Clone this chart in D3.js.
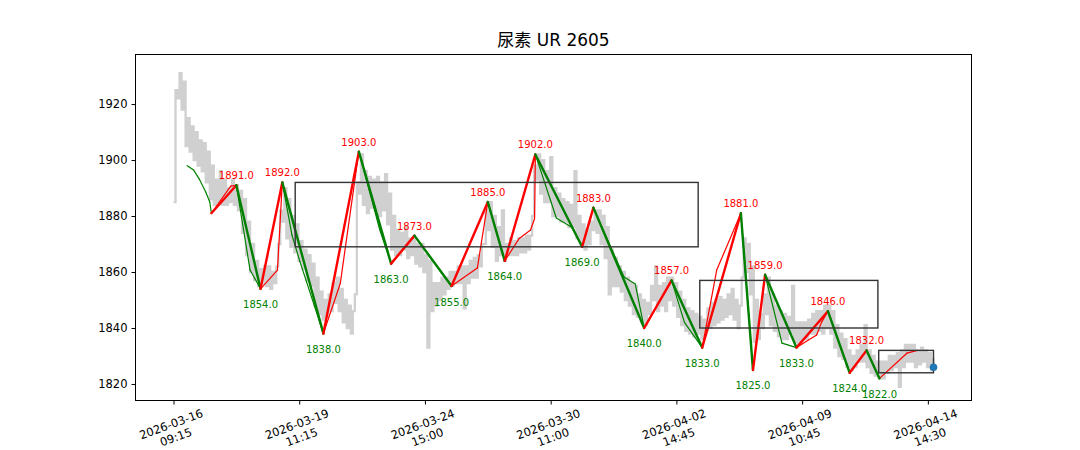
<!DOCTYPE html>
<html>
<head>
<meta charset="utf-8">
<script src="https://cdn.jsdelivr.net/npm/d3@7"></script>
<style>
  html, body { margin: 0; padding: 0; background: #fff; }
  svg { display: block; }
</style>
</head>
<body>
<div id="chart"></div>
<script>
// ---------------- data ----------------
const chartTitle = "尿素 UR 2605";

// x axis: bar index (5-minute bars); ticks every 156 bars
const tickIdx   = [0, 156, 312, 468, 624, 780, 936];
const tickDates = ["2026-03-16", "2026-03-19", "2026-03-24", "2026-03-30", "2026-04-02", "2026-04-09", "2026-04-14"];
const tickTimes = ["09:15", "11:15", "15:00", "11:00", "14:45", "10:45", "14:30"];
const yTicks    = [1820, 1840, 1860, 1880, 1900, 1920];

// close price band, sampled every 5 bars (low / high of each sample window)
const graySampleStep = 5;
const grayLow = [
  1885,1922,1918,1905,1903,1900,1898,1896,1892,1886,1884,1885,1884,1884,1885,1884,1882,1874,1866,1860,
  1857,1855,1856,1855,1854,1856,1870,1878,1872,1869,1867,1864,1861,1857,1855,1848,1845,1843,1844,1846,
  1849,1846,1842,1840,1838,1852,1888,1884,1881,1883,1882,1880,1882,1877,1868,1866,1866,1868,1865,1866,
  1863,1862,1860,1833,1846,1848,1850,1852,1854,1855,1856,1856,1847,1856,1858,1858,1862,1870,1875,1869,
  1864,1866,1864,1866,1866,1866,1867,1867,1868,1880,1893,1888,1885,1885,1880,1880,1878,1878,1876,1876,
  1872,1870,1868,1870,1875,1874,1870,1865,1852,1855,1855,1853,1850,1848,1845,1844,1842,1841,1845,1850,
  1846,1848,1846,1850,1848,1844,1841,1839,1838,1837,1838,1836,1839,1840,1841,1842,1843,1844,1845,1843,
  1840,1858,1860,1852,1835,1836,1840,1845,1841,1839,1837,1836,1836,1838,1835,1834,1836,1836,1838,1838,
  1839,1838,1840,1838,1833,1830,1829,1826,1825,1826,1828,1828,1826,1824,1823,1822,1822,1824,1825,1826,
  1819,1826,1828,1828,1826,1827,1828,1826,1825
];
const grayHigh = [
  1925,1931,1928,1915,1912,1910,1907,1906,1903,1898,1893,1896,1893,1890,1893,1891,1889,1886,1878,1870,
  1864,1861,1862,1862,1860,1862,1882,1890,1886,1880,1877,1871,1868,1866,1863,1858,1853,1850,1852,1856,
  1858,1854,1850,1848,1846,1892,1902,1896,1894,1893,1894,1892,1895,1888,1880,1875,1874,1876,1872,1872,
  1870,1870,1866,1864,1856,1856,1858,1858,1860,1860,1862,1862,1862,1864,1865,1866,1870,1882,1885,1880,
  1876,1882,1870,1872,1871,1872,1872,1873,1873,1898,1902,1900,1896,1901,1890,1888,1886,1885,1884,1896,
  1880,1877,1875,1878,1882,1882,1880,1876,1868,1865,1862,1860,1858,1856,1855,1852,1850,1849,1855,1862,
  1855,1856,1858,1858,1856,1853,1850,1847,1846,1845,1844,1843,1847,1849,1850,1851,1850,1852,1854,1850,
  1848,1872,1870,1862,1850,1845,1852,1858,1852,1848,1846,1845,1844,1855,1842,1842,1842,1843,1845,1846,
  1846,1848,1848,1846,1841,1838,1836,1832,1830,1832,1834,1841,1832,1830,1828,1828,1828,1830,1830,1831,
  1832,1834,1834,1834,1832,1833,1832,1831,1829
];
const lastIdx = 943;
const lastClose = 1826;

// zigzag pivots (thick line)
const pivotIdx = [47, 78, 108, 135, 186, 230, 270, 299, 345, 390, 411, 449, 507, 521, 584, 618, 656, 704, 719, 734, 773, 812, 839, 860, 876];
const pivotVal = [1881, 1891, 1854, 1892, 1838, 1903, 1863, 1873, 1855, 1885, 1864, 1902, 1869, 1883, 1840, 1857, 1833, 1881, 1825, 1859, 1833, 1846, 1824, 1832, 1822];

// finer stroke path (thin line)
const thinIdx = [17, 25, 32, 40, 45, 47, 71, 78, 95, 108, 129, 135, 147, 157, 186, 207, 230, 256, 270, 299, 345, 377, 390, 411, 429, 443, 448, 449, 475, 494, 507, 521, 559, 573, 584, 618, 634, 656, 674, 704, 719, 734, 755, 773, 798, 804, 812, 839, 860, 876, 910, 923];
const thinVal = [1898, 1896.4, 1893.2, 1888.6, 1885, 1881, 1890.7, 1891, 1860.7, 1854, 1860.7, 1892, 1873.2, 1863.6, 1838, 1856, 1903, 1875, 1863, 1873, 1855, 1861.4, 1885, 1864, 1872, 1875, 1879, 1902, 1879.3, 1876, 1869, 1883, 1858.2, 1855.7, 1840, 1857, 1842, 1833, 1860.7, 1881, 1825, 1859, 1834.6, 1833, 1837.5, 1842, 1846, 1824, 1832, 1822, 1831, 1832];

// boxes (start idx, end idx, low, high)
const boxStart = [151, 653, 875];
const boxEnd   = [651, 874, 943];
const boxLow   = [1869, 1840, 1824];
const boxHigh  = [1892, 1857, 1832];

// ---------------- layout ----------------
const W = 1080, H = 450;
const plot = { left: 135.5, right: 971.5, top: 54.5, bottom: 400.5 };
const fontLatin = "'DejaVu Sans', 'Noto Sans CJK SC', sans-serif";

const svg = d3.select("#chart").append("svg")
  .attr("width", W).attr("height", H)
  .attr("viewBox", `0 0 ${W} ${H}`);

const x = d3.scaleLinear().domain([-47.15, 990.15]).range([plot.left, plot.right]);
const y = d3.scaleLinear().domain([1814.1, 1937.7]).range([plot.bottom, plot.top]);

// gray close band
const grayPts = [];
grayLow.forEach((lo, i) => {
  grayPts.push([i * graySampleStep, lo]);
  grayPts.push([i * graySampleStep + graySampleStep / 2, grayHigh[i]]);
});
grayPts.push([lastIdx, lastClose]);

svg.append("path")
  .datum(grayPts)
  .attr("fill", "none")
  .attr("stroke", "#d0d0d0")
  .attr("stroke-width", 2.3)
  .attr("d", d3.line().x(d => x(d[0])).y(d => y(d[1])).curve(d3.curveStepAfter));

// thin lines
for (let i = 0; i < thinIdx.length - 1; i++) {
  const up = thinVal[i + 1] > thinVal[i];
  svg.append("line")
    .attr("x1", x(thinIdx[i])).attr("y1", y(thinVal[i]))
    .attr("x2", x(thinIdx[i + 1])).attr("y2", y(thinVal[i + 1]))
    .attr("stroke", up ? "#ff0000" : "#008000")
    .attr("stroke-width", 1.2)
    .attr("stroke-linecap", "round");
}

// thick zigzag
for (let i = 0; i < pivotIdx.length - 1; i++) {
  const up = pivotVal[i + 1] > pivotVal[i];
  svg.append("line")
    .attr("x1", x(pivotIdx[i])).attr("y1", y(pivotVal[i]))
    .attr("x2", x(pivotIdx[i + 1])).attr("y2", y(pivotVal[i + 1]))
    .attr("stroke", up ? "#ff0000" : "#008000")
    .attr("stroke-width", 2.4)
    .attr("stroke-linecap", "round");
}

// boxes
boxStart.forEach((s, i) => {
  svg.append("rect")
    .attr("x", x(s)).attr("y", y(boxHigh[i]))
    .attr("width", x(boxEnd[i]) - x(s))
    .attr("height", y(boxLow[i]) - y(boxHigh[i]))
    .attr("fill", "none")
    .attr("stroke", "#333")
    .attr("stroke-width", 1.4);
});

// pivot labels
const fmt = d3.format(".1f");
pivotIdx.forEach((p, i) => {
  if (i === 0) return;
  const isHigh = (i + 1 < pivotVal.length) ? pivotVal[i] > pivotVal[i + 1] : pivotVal[i] > pivotVal[i - 1];
  svg.append("text")
    .attr("x", x(p))
    .attr("y", isHigh ? y(pivotVal[i]) - 6 : y(pivotVal[i]) + 19.5)
    .attr("text-anchor", "middle")
    .attr("font-family", fontLatin)
    .attr("font-size", 10)
    .attr("fill", isHigh ? "#ff0000" : "#008000")
    .text(fmt(pivotVal[i]));
});

// last point
svg.append("circle")
  .attr("cx", x(lastIdx)).attr("cy", y(lastClose))
  .attr("r", 3.8).attr("fill", "#1f77b4");

// frame
svg.append("rect")
  .attr("x", plot.left).attr("y", plot.top)
  .attr("width", plot.right - plot.left).attr("height", plot.bottom - plot.top)
  .attr("fill", "none").attr("stroke", "#000").attr("stroke-width", 1);

// y axis
const yAxis = svg.append("g")
  .attr("transform", `translate(${plot.left},0)`)
  .call(d3.axisLeft(y).tickValues(yTicks).tickSize(4).tickPadding(4).tickFormat(d3.format("d")));
yAxis.select(".domain").remove();
yAxis.selectAll("text").attr("font-family", fontLatin).attr("font-size", 11.5).attr("fill", "#000");
yAxis.selectAll("line").attr("stroke", "#000");

// x axis
const xAxis = svg.append("g")
  .attr("transform", `translate(0,${plot.bottom})`)
  .call(d3.axisBottom(x).tickValues(tickIdx).tickSize(4).tickFormat(""));
xAxis.select(".domain").remove();
xAxis.selectAll("line").attr("stroke", "#000");

tickIdx.forEach((t, i) => {
  const g = svg.append("g")
    .attr("transform", `translate(${x(t)},${plot.bottom + 30}) rotate(-20)`);
  const txt = g.append("text")
    .attr("text-anchor", "middle")
    .attr("font-family", fontLatin)
    .attr("font-size", 11.5)
    .attr("fill", "#000");
  txt.append("tspan").attr("x", 0).attr("y", -2.7).text(tickDates[i]);
  txt.append("tspan").attr("x", 0).attr("y", 11.1).text(tickTimes[i]);
});

// title
svg.append("text")
  .attr("x", (plot.left + plot.right) / 2)
  .attr("y", 46)
  .attr("text-anchor", "middle")
  .attr("font-family", fontLatin)
  .attr("font-size", 17)
  .attr("fill", "#000")
  .text(chartTitle);
</script>
</body>
</html>
